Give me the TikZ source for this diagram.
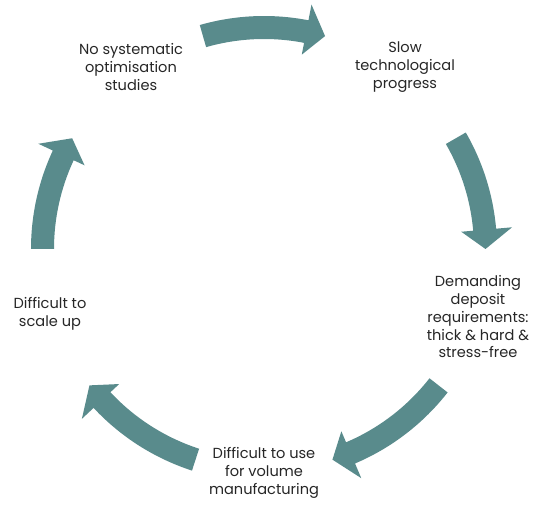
\documentclass[tikz,border=0pt]{standalone}
\usepackage{fontspec}
\setmainfont{Poppins}
\usetikzlibrary{positioning}
\definecolor{cycleteal}{RGB}{89,139,140}
\tikzset{
  stagetext/.style={align=center,font=\fontsize{8.3}{10.1}\selectfont,text=black!85,inner sep=0pt},
  cyclearrow/.style={fill=cycleteal}
}

\begin{document}
\begin{tikzpicture}[x=0.02cm,y=0.02cm]
\useasboundingbox (0,0) rectangle (539,505);
\coordinate (hub) at (264,256);
% the five stages
\node[stagetext] (nostudies) at (131,438) {No systematic\\optimisation\\studies};
\node[stagetext] (slowprog) at (405,438) {Slow\\technological\\progress};
\node[stagetext] (demanding) at (478,188) {Demanding\\deposit\\requirements:\\thick \& hard \&\\stress-free};
\node[stagetext] (volume) at (264,32) {Difficult to use\\for volume\\manufacturing};
\node[stagetext] (scaleup) at (50,191) {Difficult to\\scale up};
% block arrows round the hub
\begin{scope}[shift={(hub)}]
\foreach \tl/\tp in {106/74,30/0,-38/-72,-108/-142,180/150}{
  \pgfmathsetmacro\hb{\tp+5}
  \fill[cyclearrow] (\tl:233) arc[start angle=\tl,end angle=\hb,radius=233]
    -- (\hb:249) -- (\tp:221.5) -- (\hb:198) -- (\hb:210)
    arc[start angle=\hb,end angle=\tl,radius=210] -- cycle;
}
\end{scope}
\end{tikzpicture}
\end{document}
